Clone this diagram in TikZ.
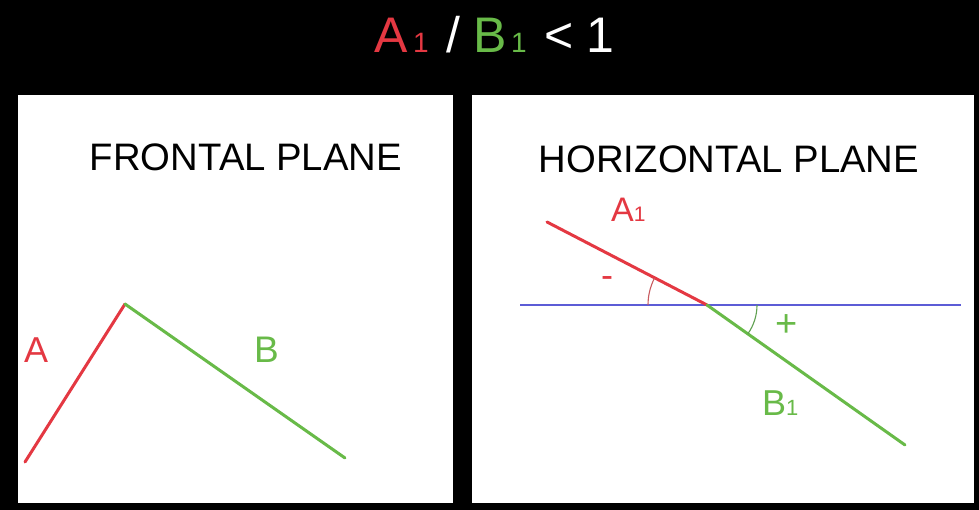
\documentclass[tikz,border=0pt]{standalone}
\usepackage{fontspec}
\setmainfont{Liberation Sans}
\definecolor{lred}{RGB}{228,56,66}
\definecolor{lgreen}{RGB}{104,186,72}
\definecolor{lblue}{RGB}{92,92,214}
\definecolor{arcred}{RGB}{200,90,95}
\definecolor{arcgreen}{RGB}{95,160,80}
\begin{document}
\begin{tikzpicture}[x=1pt,y=-1pt,
  panel/.style={fill=white,draw=none},
  seg/.style={line width=3pt,line cap=round},
  lbl/.style={inner sep=0pt,anchor=base west},
  big/.style={lbl,font=\fontsize{50}{50}\selectfont},
  small/.style={lbl,font=\fontsize{28}{28}\selectfont},
  ptitle/.style={inner sep=0pt,anchor=base,font=\fontsize{38.3}{40}\selectfont}]
\useasboundingbox (0,0) rectangle (979,510);
\fill[black] (0,0) rectangle (979,510);
\fill[panel] (18,95) rectangle (453,503);
\fill[panel] (472,95) rectangle (974,503);
% title
\node[big,text=lred] (tA) at (374,53) {A};
\node[small,text=lred] (tA1) at (413,53) {1};
\node[big,text=white] (tsl) at (446,53) {/};
\node[big,text=lgreen] (tB) at (473,53) {B};
\node[small,text=lgreen] (tB1) at (511,53) {1};
\node[big,text=white] (tlt) at (544,53) {<};
\node[big,text=white] (tone) at (586,53) {1};
% panel titles
\node[ptitle] (ft) at (246,171) {FRONTAL PLANE};
\node[ptitle] (ht) at (729,173) {HORIZONTAL PLANE};
% left panel
\coordinate (a0) at (25,462);
\coordinate (peak) at (125,304);
\coordinate (b0) at (345,458);
\draw[seg,lred] (a0) -- (peak);
\draw[seg,lgreen] (peak) -- (b0);
\node[lbl,font=\fontsize{36}{36}\selectfont,text=lred] (la) at (24,362) {A};
\node[lbl,font=\fontsize{37}{37}\selectfont,text=lgreen] (lb) at (254,362) {B};
% right panel
\coordinate (h0) at (520,305);
\coordinate (h1) at (961,305);
\coordinate (o) at (707,305);
\coordinate (r0) at (547,222);
\coordinate (g1) at (905,445);
\draw[lblue,line width=1.2pt] (h0) -- (h1);
\draw[seg,lred] (r0) -- (o);
\draw[seg,lgreen] (o) -- (g1);
\draw[arcred,line width=1.1pt] ([shift={(180:59)}]o) arc[start angle=180,end angle=207.1,radius=59];
\draw[arcgreen,line width=1.1pt] ([shift={(0:50)}]o) arc[start angle=0,end angle=35.3,radius=50];
\node[lbl,text=lred] (la1) at (611,222) {\fontsize{34}{34}\selectfont A{\fontsize{21}{21}\selectfont 1}};
\node[lbl,text=lgreen] (lb1) at (762,415) {\fontsize{36}{36}\selectfont B{\fontsize{22}{22}\selectfont 1}};
\node[inner sep=0pt,text=lred,font=\fontsize{36}{36}\selectfont] (minus) at (607,282) {-};
\node[inner sep=0pt,text=lgreen,font=\fontsize{38}{38}\selectfont] (plus) at (787,326) {+};
\end{tikzpicture}
\end{document}
